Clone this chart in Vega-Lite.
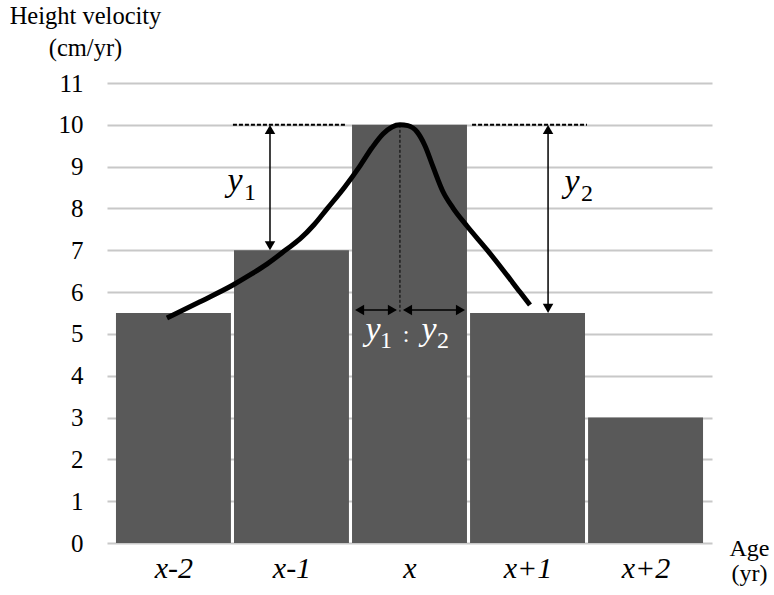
{
  "$schema": "https://vega.github.io/schema/vega-lite/v6.json",
  "width": 605,
  "height": 460,
  "autosize": "none",
  "padding": {"left": 107, "top": 83, "right": 62, "bottom": 52},
  "config": {"view": {"stroke": null}, "font": "Liberation Serif"},
  "layer": [
    {
      "data": {"values": [
        {"age": "x-2", "c": -2, "lo": -2.487, "hi": -1.513, "v": 5.5},
        {"age": "x-1", "c": -1, "lo": -1.487, "hi": -0.513, "v": 7},
        {"age": "x", "c": 0, "lo": -0.487, "hi": 0.487, "v": 10},
        {"age": "x+1", "c": 1, "lo": 0.513, "hi": 1.487, "v": 5.5},
        {"age": "x+2", "c": 2, "lo": 1.513, "hi": 2.487, "v": 3}
      ]},
      "mark": {"type": "rect", "color": "#595959"},
      "encoding": {
        "x": {"field": "lo", "type": "quantitative",
          "scale": {"domain": [-2.563, 2.563], "nice": false, "zero": false},
          "axis": {"values": [-2, -1, 0, 1, 2],
            "labelExpr": "datum.value == -2 ? 'x-2' : datum.value == -1 ? 'x-1' : datum.value == 0 ? 'x' : datum.value == 1 ? 'x+1' : 'x+2'",
            "labelFont": "Liberation Serif", "labelFontStyle": "italic", "labelFontSize": 30, "labelColor": "black",
            "labelPadding": 10, "grid": false, "ticks": false, "domain": false,
            "title": ["Age", "(yr)"], "titleFont": "Liberation Serif", "titleFontSize": 24, "titleFontWeight": "normal",
            "titleColor": "black", "titleAlign": "center", "titleBaseline": "alphabetic", "titleAnchor": null,
            "titleX": 642, "titleY": 12, "titleLineHeight": 25}},
        "x2": {"field": "hi"},
        "y": {"field": "v", "type": "quantitative",
          "scale": {"domain": [0, 11], "nice": false},
          "axis": {"values": [0,1,2,3,4,5,6,7,8,9,10,11], "grid": true, "gridColor": "#c8c8c8", "gridWidth": 2,
            "domain": false, "ticks": false, "labelFont": "Liberation Serif", "labelFontSize": 25, "labelColor": "black",
            "labelPadding": 24,
            "title": ["Height velocity", "(cm/yr)"], "titleFont": "Liberation Serif", "titleFontSize": 24.5, "titleFontWeight": "normal",
            "titleColor": "black", "titleAngle": 0, "titleAlign": "center", "titleBaseline": "alphabetic", "titleAnchor": null,
            "titleX": -22, "titleY": -60, "titleLineHeight": 32}},
        "y2": {"datum": 0}
      }
    },
    {
      "data": {"values": [
        {"t": -2.055, "h": 5.38}, {"t": -1.775, "h": 5.77}, {"t": -1.496, "h": 6.17}, {"t": -1.352, "h": 6.41},
        {"t": -1.208, "h": 6.67}, {"t": -1.047, "h": 7.01}, {"t": -0.928, "h": 7.27}, {"t": -0.809, "h": 7.61},
        {"t": -0.699, "h": 7.99}, {"t": -0.547, "h": 8.52}, {"t": -0.419, "h": 9.02}, {"t": -0.318, "h": 9.45},
        {"t": -0.225, "h": 9.78}, {"t": -0.148, "h": 9.95}, {"t": -0.081, "h": 10.0}, {"t": -0.013, "h": 9.98},
        {"t": 0.064, "h": 9.83}, {"t": 0.131, "h": 9.5}, {"t": 0.199, "h": 9.0}, {"t": 0.284, "h": 8.4},
        {"t": 0.369, "h": 8.01}, {"t": 0.487, "h": 7.58}, {"t": 0.657, "h": 7.01}, {"t": 0.792, "h": 6.53},
        {"t": 0.936, "h": 6.0}, {"t": 1.021, "h": 5.69}
      ]},
      "mark": {"type": "line", "color": "black", "strokeWidth": 5, "interpolate": "monotone", "strokeCap": "butt"},
      "encoding": {
        "x": {"field": "t", "type": "quantitative"},
        "y": {"field": "h", "type": "quantitative"}
      }
    },
    {
      "data": {"values": [
        {"a": -1.496, "b": -0.538, "h": 10},
        {"a": 0.53, "b": 1.504, "h": 10}
      ]},
      "mark": {"type": "rule", "color": "black", "strokeWidth": 2, "strokeDash": [4, 2]},
      "encoding": {
        "x": {"field": "a", "type": "quantitative"},
        "x2": {"field": "b"},
        "y": {"field": "h", "type": "quantitative"}
      }
    },
    {
      "data": {"values": [{"t": -0.081, "a": 10, "b": 5.53}]},
      "mark": {"type": "rule", "color": "black", "strokeWidth": 1, "strokeDash": [3, 2]},
      "encoding": {
        "x": {"field": "t", "type": "quantitative"},
        "y": {"field": "a", "type": "quantitative"},
        "y2": {"field": "b"}
      }
    },
    {
      "data": {"values": [
        {"t": -1.182, "a": 9.9, "b": 7.1},
        {"t": 1.174, "a": 9.9, "b": 5.6}
      ]},
      "mark": {"type": "rule", "color": "black", "strokeWidth": 1.5},
      "encoding": {
        "x": {"field": "t", "type": "quantitative"},
        "y": {"field": "a", "type": "quantitative"},
        "y2": {"field": "b"}
      }
    },
    {
      "data": {"values": [
        {"a": -0.44, "b": -0.12, "h": 5.57},
        {"a": -0.04, "b": 0.45, "h": 5.57}
      ]},
      "mark": {"type": "rule", "color": "black", "strokeWidth": 1.5},
      "encoding": {
        "x": {"field": "a", "type": "quantitative"},
        "x2": {"field": "b"},
        "y": {"field": "h", "type": "quantitative"}
      }
    },
    {
      "data": {"values": [{"t": -1.182, "h": 9.89}, {"t": 1.174, "h": 9.89}]},
      "mark": {"type": "point", "shape": "triangle-up", "filled": true, "color": "black", "size": 110, "opacity": 1},
      "encoding": {"x": {"field": "t", "type": "quantitative"}, "y": {"field": "h", "type": "quantitative"}}
    },
    {
      "data": {"values": [{"t": -1.182, "h": 7.11}, {"t": 1.174, "h": 5.61}]},
      "mark": {"type": "point", "shape": "triangle-down", "filled": true, "color": "black", "size": 110, "opacity": 1},
      "encoding": {"x": {"field": "t", "type": "quantitative"}, "y": {"field": "h", "type": "quantitative"}}
    },
    {
      "data": {"values": [{"t": -0.423, "h": 5.57}, {"t": -0.017, "h": 5.57}]},
      "mark": {"type": "point", "shape": "triangle-left", "filled": true, "color": "black", "size": 110, "opacity": 1},
      "encoding": {"x": {"field": "t", "type": "quantitative"}, "y": {"field": "h", "type": "quantitative"}}
    },
    {
      "data": {"values": [{"t": -0.145, "h": 5.57}, {"t": 0.432, "h": 5.57}]},
      "mark": {"type": "point", "shape": "triangle-right", "filled": true, "color": "black", "size": 110, "opacity": 1},
      "encoding": {"x": {"field": "t", "type": "quantitative"}, "y": {"field": "h", "type": "quantitative"}}
    },
    {
      "data": {"values": [{"t": -1.479, "h": 8.42, "s": "y"}, {"t": 1.377, "h": 8.40, "s": "y"}]},
      "mark": {"type": "text", "font": "Liberation Serif", "fontStyle": "italic", "fontSize": 34, "color": "black", "align": "center", "baseline": "alphabetic"},
      "encoding": {"x": {"field": "t", "type": "quantitative"}, "y": {"field": "h", "type": "quantitative"}, "text": {"field": "s"}}
    },
    {
      "data": {"values": [{"t": -1.352, "h": 8.2, "s": "1"}, {"t": 1.504, "h": 8.18, "s": "2"}]},
      "mark": {"type": "text", "font": "Liberation Serif", "fontSize": 24, "color": "black", "align": "center", "baseline": "alphabetic"},
      "encoding": {"x": {"field": "t", "type": "quantitative"}, "y": {"field": "h", "type": "quantitative"}, "text": {"field": "s"}}
    },
    {
      "data": {"values": [{"t": -0.309, "h": 4.86, "s": "y"}, {"t": 0.165, "h": 4.86, "s": "y"}]},
      "mark": {"type": "text", "font": "Liberation Serif", "fontStyle": "italic", "fontSize": 34, "color": "white", "align": "center", "baseline": "alphabetic"},
      "encoding": {"x": {"field": "t", "type": "quantitative"}, "y": {"field": "h", "type": "quantitative"}, "text": {"field": "s"}}
    },
    {
      "data": {"values": [{"t": -0.199, "h": 4.67, "s": "1"}, {"t": -0.03, "h": 4.81, "s": ":"}, {"t": 0.284, "h": 4.67, "s": "2"}]},
      "mark": {"type": "text", "font": "Liberation Serif", "fontSize": 24, "color": "white", "align": "center", "baseline": "alphabetic"},
      "encoding": {"x": {"field": "t", "type": "quantitative"}, "y": {"field": "h", "type": "quantitative"}, "text": {"field": "s"}}
    }
  ]
}
